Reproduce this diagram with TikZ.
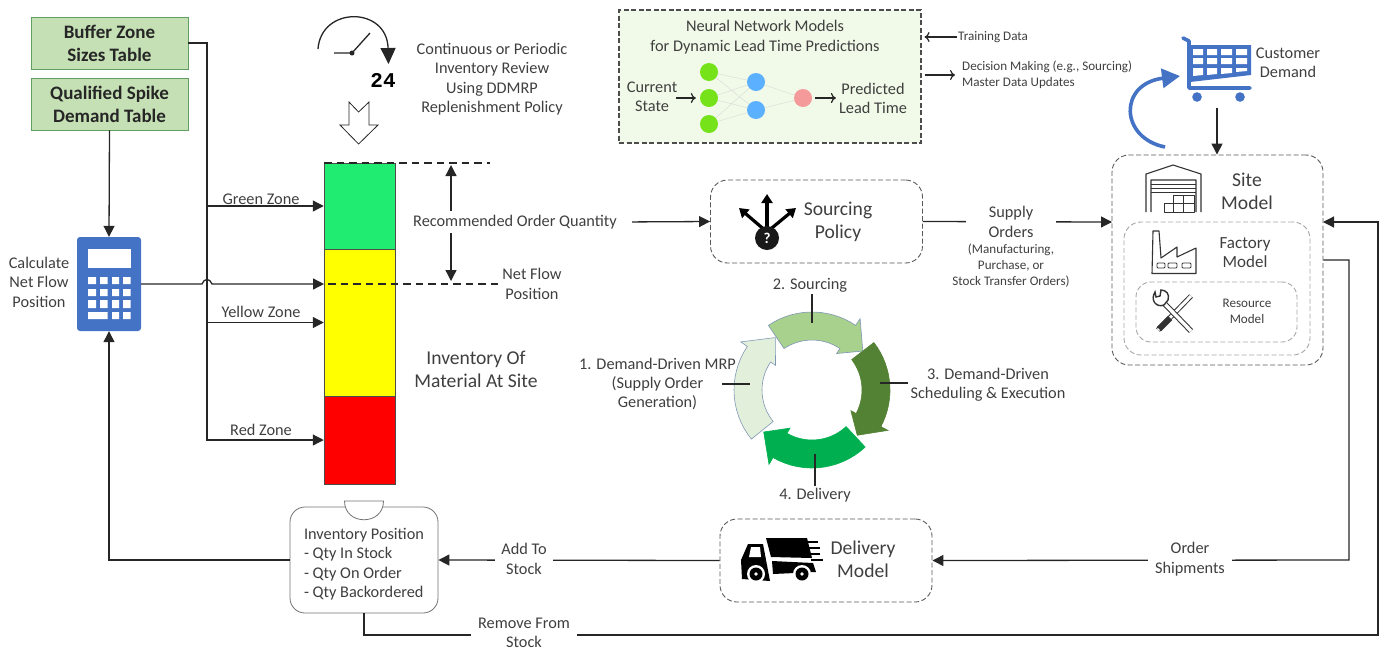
\documentclass[tikz,border=0pt]{standalone}
\usepackage{fontspec}
\setmainfont{Carlito}
\newfontfamily\clockfont{Liberation Mono}
\usetikzlibrary{arrows.meta}

\definecolor{txtgray}{HTML}{3F3F3F}
\definecolor{linegray}{HTML}{262626}
\definecolor{tablegreen}{HTML}{C5E0B4}
\definecolor{officeblue}{HTML}{4472C4}
\definecolor{zonegreen}{HTML}{1FEC70}
\definecolor{zoneyellow}{HTML}{FFFF00}
\definecolor{zonered}{HTML}{FF0000}
\definecolor{nnfill}{HTML}{F1FAE8}
\definecolor{nngreen}{HTML}{76E31A}
\definecolor{nnblue}{HTML}{5BB0FF}
\definecolor{nnpink}{HTML}{F59A9A}
\definecolor{ringone}{HTML}{E2EFDA}
\definecolor{ringtwo}{HTML}{A9D18E}
\definecolor{ringthree}{HTML}{548235}
\definecolor{ringfour}{HTML}{00B050}
\definecolor{ringedge}{HTML}{7F97B5}

\tikzset{
	lbl/.style={align=center,inner sep=1pt,text=txtgray,font=\fontsize{16.3}{19.4}\selectfont},
	lblbig/.style={lbl,font=\fontsize{19.6}{23}\selectfont},
	lblsmall/.style={lbl,font=\fontsize{13.1}{16}\selectfont},
	tablebox/.style={rectangle,draw=green!25!gray,fill=tablegreen,line width=.8pt,minimum width=157pt,minimum height=52pt,align=center,inner sep=0pt,text=black!85,font=\bfseries\fontsize{19}{23}\selectfont},
	zone/.style={rectangle,draw=black!70,line width=.5pt,minimum width=71pt,inner sep=0pt},
	modelbox/.style={rectangle,rounded corners=17pt,draw=black!65,dash pattern=on 5pt off 2.5pt,line width=.9pt,inner sep=0pt},
	conn/.style={draw=linegray,line width=1.3pt,->},
	openconn/.style={draw=linegray,line width=1.2pt,-{To[length=5pt,width=10pt]}},
	leader/.style={draw=linegray,line width=1.3pt,shorten <=1pt},
	limit/.style={draw=linegray,line width=1.3pt,dash pattern=on 7.5pt off 5pt},
	neuron/.style={circle,minimum size=18pt,inner sep=0pt},
	icon/.style={draw=black!80,line width=1.1pt,line join=round},
}

\newcommand{\cyclearrow}[5]{%
	\filldraw[fill=#4,draw=#5,line width=.6pt,line join=miter]
		plot[domain=#1:#2,samples=16] ({812+78*cos(\x)},{390+78*sin(\x)})
		-- ({812+86*cos(#2)},{390+86*sin(#2)})
		-- ({812+64*cos(#3)},{390+64*sin(#3)})
		-- ({812+44*cos(#2)},{390+44*sin(#2)})
		-- plot[domain=#2:#1,samples=16] ({812+50*cos(\x)},{390+50*sin(\x)})
		-- cycle;
}

\begin{document}
\begin{tikzpicture}
	[x=1pt,y=-1pt,>={Triangle[length=11pt,width=11pt]}]
	\useasboundingbox (0,0) rectangle (1383,649);

	% tables and calculator
	\node[tablebox] (buffer) at (109.5,43) {Buffer Zone\\Sizes Table};
	\node[tablebox] (spike) at (109.5,104) {Qualified Spike\\Demand Table};
	\node[rectangle,rounded corners=3pt,fill=officeblue,minimum width=64pt,minimum height=94pt,inner sep=0pt] (calc) at (109,284) {};
	\fill[white] (88,249) rectangle (130.5,268);
	\fill[white] (88,277) rectangle (96,284) (100,277) rectangle (107.5,284) (112,277) rectangle (119,284) (123,277) rectangle (130.5,284);
	\fill[white] (88,289) rectangle (96,296) (100,289) rectangle (107.5,296) (112,289) rectangle (119,296) (123,289) rectangle (130.5,296);
	\fill[white] (88,300) rectangle (96,308) (100,300) rectangle (107.5,308) (112,300) rectangle (119,308) (123,300) rectangle (130.5,308);
	\fill[white] (88,312) rectangle (107.5,319) (112,312) rectangle (119,319) (123,312) rectangle (130.5,319);
	\node[lbl] (calclabel) at (39,282) {Calculate\\Net Flow\\Position};

	% stock column
	\node[zone,fill=zonegreen,minimum height=86pt] (greenzone) at (359.5,206) {};
	\node[zone,fill=zoneyellow,minimum height=147pt] (yellowzone) at (359.5,322.5) {};
	\node[zone,fill=zonered,minimum height=88pt] (redzone) at (359.5,440) {};
	\node[lbl] (greenlabel) at (261,199) {Green Zone};
	\node[lbl] (yellowlabel) at (261,312) {Yellow Zone};
	\node[lbl] (redlabel) at (261,430) {Red Zone};
	\node[lbl] (netlabel) at (532,284) {Net Flow\\Position};
	\node[lbl] (qty) at (515,222) {Recommended Order Quantity};
	\node[lblbig] (stocklabel) at (476,369) {Inventory Of\\Material At Site};

	\coordinate (trunk) at (207,440);
	\coordinate (hopa) at (202,284);
	\coordinate (hopb) at (212,284);
	\coordinate (netflow) at (324,284);
	\coordinate (topa) at (324,163);
	\coordinate (topb) at (490,163);
	\coordinate (neta) at (328,284);
	\coordinate (qtyup) at (451,165);
	\coordinate (qtydown) at (451,281);

	\draw[conn] (spike.south) -- (calc.north);
	\draw[conn] (buffer.east) -| (trunk) -- (redzone.west);
	\draw[conn] (trunk |- greenzone.west) -- (greenzone.west);
	\draw[conn] (trunk |- yellowzone.west) -- (yellowzone.west);
	\draw[conn] (calc.east |- netflow) -- (hopa) .. controls (204,278) and (210,278) .. (hopb) -- (netflow);
	\draw[limit] (topa) -- (topb);
	\draw[limit] (neta) -- (netlabel.west);
	\draw[conn,shorten <=3pt] (qtyup |- qty.north) -- (qtyup);
	\draw[conn,shorten <=3pt] (qtydown |- qty.south) -- (qtydown);

	% review clock
	\coordinate (clockhub) at (352,53);
	\coordinate (clockleft) at (334,53);
	\coordinate (clockhand) at (370,33);
	\coordinate (clockstart) at (318,49);
	\coordinate (clockend) at (388.5,64);
	\draw[conn,>={Triangle[length=16pt,width=15pt]}] (clockstart) .. controls (321,6) and (387,6) .. (clockend);
	\draw[line width=1.3pt,draw=linegray] (clockleft) -- (clockhub) -- (clockhand);
	\fill[linegray] (clockhub) circle (2.5);
	\node[inner sep=0pt,font=\clockfont\bfseries\fontsize{21}{21}\selectfont] (clocktext) at (383,80) {24};
	\node[lbl] (reviewlabel) at (492,79) {Continuous or Periodic\\Inventory Review\\Using DDMRP\\Replenishment Policy};
	\draw[draw=linegray,line width=.8pt,fill=white] (349,102) -- (358.6,112) -- (369,102) -- (369,125) -- (378,125) -- (358.6,144) -- (340,125) -- (349,125) -- cycle;

	% neural network
	\node[rectangle,draw=black!70,fill=nnfill,dash pattern=on 5pt off 2.5pt,line width=1.1pt,minimum width=302pt,minimum height=133pt] (nnbox) at (770,76.5) {};
	\node[lbl] (nntitle) at (765,37) {Neural Network Models\\for Dynamic Lead Time Predictions};
	\node[lbl] (nnstate) at (652,96.5) {Current\\State};
	\node[lbl] (nntime) at (873,98.5) {Predicted\\Lead Time};
	\node[neuron,fill=nngreen] (in1) at (709,72) {};
	\node[neuron,fill=nngreen] (in2) at (709,98) {};
	\node[neuron,fill=nngreen] (in3) at (709,124) {};
	\node[neuron,fill=nnblue] (mid1) at (756,82) {};
	\node[neuron,fill=nnblue] (mid2) at (756,110) {};
	\node[neuron,fill=nnpink] (out1) at (803,98) {};
	\draw[black!15] (in1) -- (mid1);
	\draw[black!15] (in1) -- (mid2);
	\draw[black!15] (in2) -- (mid1);
	\draw[black!15] (in2) -- (mid2);
	\draw[black!15] (in3) -- (mid1);
	\draw[black!15] (in3) -- (mid2);
	\draw[black!15] (mid1) -- (out1);
	\draw[black!15] (mid2) -- (out1);
	\draw[openconn,shorten <=-2pt,shorten >=4pt] (nnstate.east |- in2) -- (in2);
	\draw[openconn,shorten <=3pt,shorten >=2pt] (out1) -- (nntime.west |- out1);
	\node[lblsmall,anchor=west] (training) at (957,37) {Training Data};
	\node[lblsmall,anchor=west,align=left] (decision) at (961,75) {Decision Making (e.g., Sourcing)\\Master Data Updates};
	\draw[openconn,shorten >=3pt] (training) -- (nnbox.east |- training);
	\draw[openconn,shorten <=3pt,shorten >=6pt] (nnbox.east |- decision) -- (decision.west);

	% sourcing policy
	\node[modelbox,minimum width=212pt,minimum height=83pt] (sourcing) at (816.5,221.5) {};
	\node[lblbig] (sourcinglabel) at (838,221.5) {Sourcing\\Policy};
	\coordinate (srcup) at (767,194);
	\coordinate (srcleft) at (739,208);
	\coordinate (srcright) at (796,208);
	\coordinate (srcbase) at (767,232);
	\draw[line width=3.2pt,-{Triangle[length=9pt,width=11pt]}] (srcbase) -- (srcup);
	\draw[line width=3.2pt,-{Triangle[length=9pt,width=11pt]}] (srcbase) -- (srcleft);
	\draw[line width=3.2pt,-{Triangle[length=9pt,width=11pt]}] (srcbase) -- (srcright);
	\node[circle,fill=black!90,minimum size=24pt,inner sep=0pt,text=white,font=\bfseries\fontsize{15}{15}\selectfont] (srcmark) at (767,238) {?};
	\draw[conn,shorten <=14pt] (qty.east) -- (sourcing.west);

	% site model
	\node[modelbox,minimum width=211pt,minimum height=210pt] (site) at (1217.5,260) {};
	\node[modelbox,draw=black!35,minimum width=186pt,minimum height=133pt] (factory) at (1217,288.5) {};
	\node[modelbox,draw=black!35,minimum width=161pt,minimum height=60pt,rounded corners=15pt] (resource) at (1216.5,312) {};
	\node[lblbig] (sitelabel) at (1247,191.5) {Site\\Model};
	\node[lbl,font=\fontsize{17}{19.4}\selectfont] (factorylabel) at (1245,252.5) {Factory\\Model};
	\node[lblsmall] (resourcelabel) at (1247,311.5) {Resource\\Model};
	\coordinate (sitein) at (1112,222);
	\coordinate (retin) at (1323,222);

	\draw[icon] (1146,212) -- (1146,174) -- (1173,165) -- (1201,174) -- (1201,212) (1151,212) -- (1151,180) -- (1196,180) -- (1196,212);
	\draw[icon,line width=.7pt] (1151,184) -- (1196,184) (1151,188) -- (1196,188) (1151,192) -- (1196,192);
	\draw[icon,line width=.8pt] (1164,203) rectangle (1173,212) (1173,195) rectangle (1194,212) (1183.5,195) -- (1183.5,212) (1173,203) -- (1194,203);
	\draw[icon] (1152,273.5) -- (1153,231) -- (1159,231) -- (1161,258) -- (1177,247) -- (1177,257) -- (1196,248) -- (1196,273.5) -- cycle;
	\draw[icon,line width=.8pt,rounded corners=1pt] (1157,263) rectangle (1165,268) (1168,263) rectangle (1177,268) (1182,263) rectangle (1191,268);
	\draw[black!80,line width=5pt] (1191,296) -- (1158,330);
	\draw[white,line width=3pt] (1191,296) -- (1158,330);
	\draw[black!80,line width=6pt] (1170,318) -- (1159,329);
	\draw[black!80,line width=5.5pt] (1161,300) -- (1191,331);
	\draw[white,line width=3.4pt] (1161,300) -- (1191,331);
	\draw[black!80,line width=1.4pt,fill=white] (1155,292) .. controls (1150,300) and (1156,308) .. (1164,305) -- (1168,300) .. controls (1170,294) and (1166,290) .. (1161,290) -- (1160,296) -- (1156,297) -- cycle;

	% customer
	\node[lbl] (demand) at (1288,62.5) {Customer\\Demand};
	\coordinate (cartfoot) at (1217,108);
	\fill[officeblue] (1190,45) -- (1251,45) -- (1251,75) -- (1190,82) -- cycle;
	\fill[white] (1193,49) rectangle (1203,55) (1207,49) rectangle (1217,55) (1221,49) rectangle (1232,55) (1236,49) rectangle (1247,55);
	\fill[white] (1193,58) rectangle (1203,64) (1207,58) rectangle (1217,64) (1221,58) rectangle (1232,64) (1236,58) rectangle (1247,64);
	\fill[white] (1193,68) -- (1203,68) -- (1203,75) -- (1193,76) -- cycle (1207,68) -- (1217,68) -- (1217,74) -- (1207,75) -- cycle (1221,68) -- (1232,68) -- (1232,73) -- (1221,74) -- cycle (1236,68) -- (1247,68) -- (1247,71) -- (1236,72) -- cycle;
	\draw[officeblue,line width=3.6pt,line cap=round,line join=round] (1183,38) -- (1189,41) -- (1189,88) -- (1250,88);
	\fill[officeblue] (1197,97) circle (4.8) (1240,97) circle (4.8);
	\coordinate (returnstart) at (1165,147);
	\coordinate (returnend) at (1180,76);
	\draw[officeblue,line width=3.6pt,-{Triangle[length=18pt,width=19pt]}] (returnstart) .. controls (1120,138) and (1118,84) .. (returnend);
	\draw[conn] (cartfoot) -- (site.north -| cartfoot);

	% cycle
	\cyclearrow{141}{214}{235}{ringone}{ringedge}
	\cyclearrow{-124}{-56}{-37.5}{ringtwo}{ringedge}
	\cyclearrow{-37.5}{28}{45}{ringthree}{ringthree}
	\cyclearrow{47}{120}{139}{ringfour}{ringfour}
	\node[lbl] (step2) at (810,285) {2. Sourcing};
	\node[lbl] (step3) at (988,384.5) {3. Demand-Driven\\Scheduling \& Execution};
	\node[lbl] (step4) at (815,495) {4. Delivery};
	\node[lbl] (step1) at (657.5,384) {1. Demand-Driven MRP\\(Supply Order\\Generation)};
	\coordinate (ring2) at (812,323);
	\coordinate (ring3) at (880,383);
	\coordinate (ring4) at (815,454);
	\coordinate (ring1) at (750,384);
	\coordinate (step1tick) at (721,384);
	\draw[leader] (step2.south -| ring2) -- (ring2);
	\draw[leader] (step3.west |- ring3) -- (ring3);
	\draw[leader] (step4.north -| ring4) -- (ring4);
	\draw[leader] (step1tick) -- (ring1);

	% delivery and stock
	\node[modelbox,minimum width=212pt,minimum height=83pt] (delivery) at (826,560.5) {};
	\node[lblbig] (deliverylabel) at (863,559.5) {Delivery\\Model};
	\node[rectangle,rounded corners=15pt,draw=black!55,line width=.8pt,fill=white,minimum width=148pt,minimum height=106pt,inner sep=0pt] (inventory) at (364,560) {};
	\draw[draw=black!55,line width=.8pt,fill=white] (344.5,501) -- (383.5,501) .. controls (383.5,526) and (344.5,526) .. (344.5,501) -- cycle;
	\node[lbl,align=left] (invlabel) at (364,564) {Inventory Position\\- Qty In Stock\\- Qty On Order\\- Qty Backordered};

	\fill[black] (748,544) -- (763,544) -- (770,581) -- (742,579) -- (741,560) -- cycle;
	\fill[white] (751,547) -- (760,547) -- (761,557) -- (749,557) -- cycle;
	\fill[black] (766,538) -- (807,538) -- (812,558) -- (771,557) -- cycle;
	\fill[black] (772,561) -- (813,563) -- (816,572) -- (773,574) -- cycle;
	\fill[white] (756,574) circle (9) (802,574) circle (9);
	\fill[black] (756,574) circle (6.5) (802,574) circle (6.5);
	\fill[white] (756,574) circle (1.8) (802,574) circle (1.8);
	\draw[black,line width=1.3pt] (808,542) -- (818,542) (808,548) -- (820,548) (810,554) -- (820,554) (811,560) -- (823,560);

	\coordinate (shipcorner) at (1349,560);
	\coordinate (stockcorner) at (1378,635);
	\coordinate (callcorner) at (109,560);
	\draw[conn] (sourcing.east) -- (sitein);
	\draw[conn] (site.east) -| (shipcorner) -- (delivery.east);
	\draw[conn] (delivery.west) -- (inventory.east);
	\draw[conn] (inventory.south) |- (stockcorner) |- (retin);
	\draw[conn] (inventory.west) -- (callcorner) -- (calc.south);

	\node[lbl,fill=white,inner xsep=8pt,inner ysep=0pt,minimum width=90pt] (supply) at (1011,222) {Supply\\Orders};
	\node[lblsmall] (supplynote) at (1011,266) {(Manufacturing,\\Purchase, or\\Stock Transfer Orders)};
	\node[lbl,fill=white,inner xsep=7pt,inner ysep=0pt] (shipments) at (1190,559) {Order\\Shipments};
	\node[lbl,fill=white,inner xsep=6pt,inner ysep=0pt] (addstock) at (524,559) {Add To\\Stock};
	\node[lbl,fill=white,inner xsep=7pt,inner ysep=0pt] (removestock) at (524,633) {Remove From\\Stock};

\end{tikzpicture}
\end{document}
